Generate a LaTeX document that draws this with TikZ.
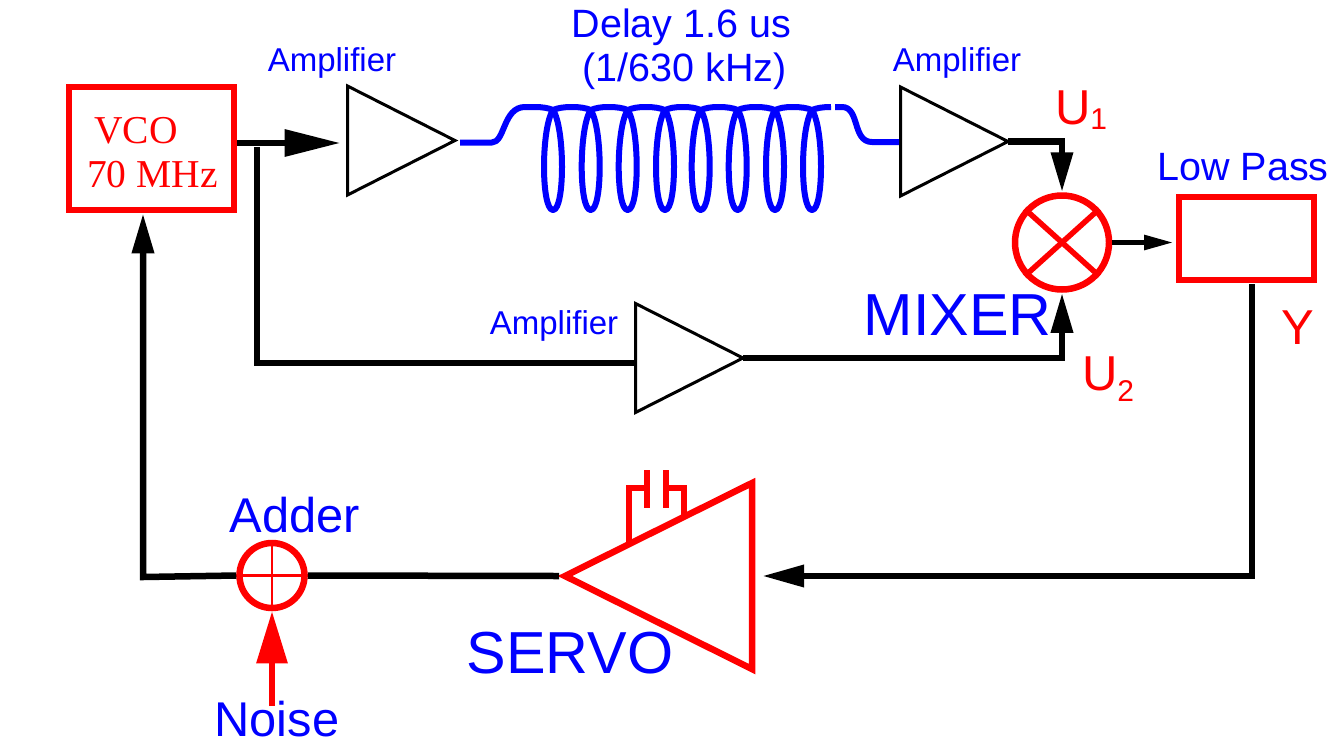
\documentclass[tikz,border=0pt]{standalone}
\usepackage{fontspec}
\setmainfont{Liberation Sans}
\newfontfamily\timesf{Liberation Serif}
\usetikzlibrary{arrows.meta,shapes.geometric}
\definecolor{pblue}{HTML}{0000FF}
\definecolor{pred}{HTML}{FF0000}
\tikzset{
  lbl/.style={inner sep=0pt,outer sep=0pt,anchor=base},
  amptext/.style={lbl,text=pblue,font=\fontsize{33}{33}\selectfont},
  midtext/.style={lbl,text=pblue,font=\fontsize{39.5}{39.5}\selectfont},
  bigtext/.style={lbl,text=pblue,font=\fontsize{59.3}{59.3}\selectfont},
  addtext/.style={lbl,text=pblue,font=\fontsize{48.8}{48.8}\selectfont},
  sigtext/.style={lbl,text=pred,font=\fontsize{49}{49}\selectfont},
  vcotext/.style={lbl,text=pred,font=\timesf\fontsize{39.5}{39.5}\selectfont},
  amptri/.style={draw=black,line width=3pt,isosceles triangle,isosceles triangle stretches,
    minimum width=109pt,minimum height=107.5pt,inner sep=0pt,outer sep=0pt,anchor=lower side},
  servotri/.style={draw=pred,line width=6.5pt,isosceles triangle,isosceles triangle stretches,
    shape border rotate=180,
    minimum width=186pt,minimum height=187pt,inner sep=0pt,outer sep=0pt,anchor=lower side},
  redbox/.style={draw=pred,inner sep=0pt},
  wire/.style={draw=black,line width=6.5pt,line join=miter},
  coilline/.style={draw=pblue,line width=6pt,line join=round},
  headA/.style={-{Triangle[length=#1,width=21pt]}},
}
\newcommand{\loopat}[1]{(#1,110) .. controls (#1-12,128) and (#1-12,210) .. (#1,210) .. controls (#1+12,210) and (#1+12,128) .. (#1,110)}
\begin{document}
\begin{tikzpicture}[x=1pt,y=-1pt]
\useasboundingbox (0,0) rectangle (1332,742);
% blocks
\node[redbox,line width=6.5pt,minimum width=165pt,minimum height=123pt] (vco) at (151.5,148.5) {};
\node[vcotext] (vcoa) at (136,143) {VCO};
\node[vcotext] (vcob) at (152.5,187.5) {70 MHz};
\node[amptri] (amp1) at (347.5,140.5) {};
\node[amptri] (amp2) at (900.5,141.5) {};
\node[amptri] (amp3) at (635.5,358) {};
\node[draw=pred,line width=6.5pt,circle,minimum size=94pt,inner sep=0pt] (mixer) at (1062,242.5) {};
\node[redbox,line width=6pt,minimum width=135pt,minimum height=83pt] (lpf) at (1246.5,238.5) {};
\node[servotri] (servo) at (752,576) {};
\node[draw=pred,line width=6.5pt,circle,minimum size=65pt,inner sep=0pt] (adder) at (272,575.5) {};
% texts
\node[amptext] (t1) at (332,71.5) {Amplifier};
\node[amptext] (t2) at (957,71.5) {Amplifier};
\node[amptext] (t3) at (554,334.5) {Amplifier};
\node[midtext] (delaya) at (681.5,37) {Delay 1.6 us};
\node[midtext] (delayb) at (684.5,81.5) {(1/630 kHz)};
\node[midtext] (lp) at (1243,180.5) {Low Pass};
\node[bigtext] (mx) at (957.5,335) {MIXER};
\node[bigtext] (sv) at (570,673) {SERVO};
\node[addtext] (ad) at (295,532) {Adder};
\node[addtext] (ns) at (277,736) {Noise};
\node[sigtext,anchor=base west] (u1) at (1055,124) {U\raisebox{-5pt}{\fontsize{30}{30}\selectfont 1}};
\node[sigtext,anchor=base west] (u2) at (1082,390) {U\raisebox{-11pt}{\fontsize{30}{30}\selectfont 2}};
\node[sigtext] (y) at (1298,344) {Y};
% mixer and adder crosses
\draw[pred,line width=5.5pt] (mixer.42) -- (mixer.222);
\draw[pred,line width=5.5pt] (mixer.138) -- (mixer.318);
\draw[pred,line width=2.5pt] (adder.north) -- (adder.south);
\draw[pred,line width=2.5pt] (adder.west) -- (adder.east);
% servo capacitor
\draw[pred,line width=6pt,line join=miter] (629,543) -- (629,488) -- (647,488);
\draw[pred,line width=6pt,line join=miter] (684,515) -- (684,488) -- (666,488);
\draw[pred,line width=6pt] (647,470) -- (647,508);
\draw[pred,line width=6pt] (666,470) -- (666,508);
% coil
\foreach \c in {553,590.7,627.7,665,700.7,737.7,775,812}{
  \draw[coilline] \loopat{\c};
}
\coordinate (coilin) at (460,142.5);
\coordinate (coilout) at (899,142);
\draw[coilline] (coilin) -- (492,142.5) .. controls (505,142.5) and (503,107) .. (525,107) -- (534,107)
  .. controls (543,107) and (548,108) .. (553,110)
  .. controls (558,108) and (563,107) .. (572,107) .. controls (580,107) and (586,108) .. (590.7,110)
  .. controls (596,108) and (600,107) .. (609,107) .. controls (617,107) and (623,108) .. (627.7,110)
  .. controls (633,108) and (637,107) .. (646,107) .. controls (654,107) and (660,108) .. (665,110)
  .. controls (670,108) and (674,107) .. (683,107) .. controls (691,107) and (696,108) .. (700.7,110)
  .. controls (706,108) and (710,107) .. (719,107) .. controls (727,107) and (733,108) .. (737.7,110)
  .. controls (743,108) and (747,107) .. (756,107) .. controls (764,107) and (770,108) .. (775,110)
  .. controls (780,108) and (784,107) .. (793,107) .. controls (801,107) and (807,108) .. (812,110)
  .. controls (817,108) and (822,107) .. (831,107);
\draw[coilline] (835,107) -- (842,107) .. controls (860,107) and (852,142) .. (872,142) -- (coilout);
% connectors
\coordinate (amp1in) at (347.5,143);
\draw[wire,-{Triangle[length=56pt,width=26pt]},shorten >=7pt] (vco.east |- amp1in) -- (amp1in);
\coordinate (brstart) at (257,147);
\coordinate (brcorner) at (257,363);
\draw[wire] (brstart) -- (brcorner) -- (amp3.lower side |- brcorner);
\draw[wire,headA=40pt] (amp2.apex) -| (mixer.north);
\draw[wire,headA=40pt] (amp3.apex) -| (mixer.south);
\draw[wire,line width=5.5pt,-{Triangle[length=30pt,width=14pt]},shorten >=2pt] (mixer.east) -- (lpf.west |- mixer.east);
\coordinate (yout) at (1252,284);
\coordinate (ycorner) at (yout |- servo.lower side);
\draw[wire,headA=42pt,shorten >=10pt] (yout) -- (ycorner) -- (servo.lower side);
\draw[wire] (servo.apex) ++(-6,0) -- (adder.east);
\coordinate (fbcorner) at (143,577);
\draw[wire,headA=40pt] (adder.west) -- (fbcorner) -- (vco.south -| fbcorner);
\coordinate (noiseend) at (272,706);
\draw[pred,line width=6pt,-{Triangle[length=52pt,width=30pt]}] (noiseend) -- (adder.south);
\end{tikzpicture}
\end{document}
